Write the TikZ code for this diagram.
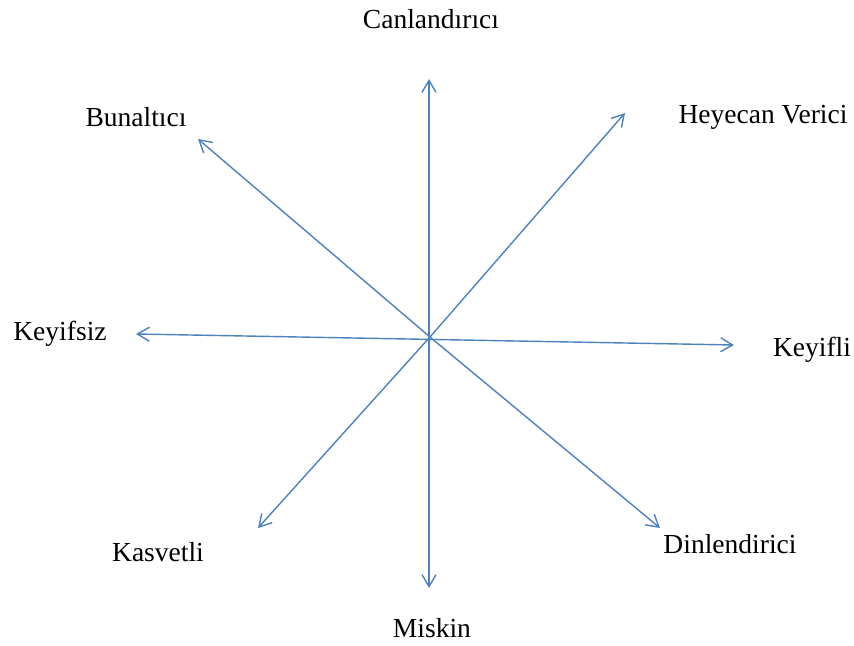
\documentclass[tikz,border=0pt]{standalone}
\usepackage{fontspec}
\setmainfont{Liberation Serif}
\usetikzlibrary{arrows.meta}

\begin{document}
\begin{tikzpicture}[
  x=0.03cm, y=-0.03cm,
  every node/.style={align=center, font=\fontsize{23.5}{28}\selectfont, inner sep=0pt},
  axis/.style={{Straight Barb[length=3.6mm, width=4.2mm]}-{Straight Barb[length=3.6mm, width=4.2mm]}, line width=1.2pt, draw={rgb,255:red,79;green,129;blue,189}},
  arrow/.style={-{Straight Barb[length=3.6mm, width=4.2mm]}, line width=1.2pt, draw={rgb,255:red,79;green,129;blue,189}}
]
\useasboundingbox (0,0) rectangle (854,646);

\coordinate (center) at (430,337);
\coordinate (up) at (429,79);
\coordinate (down) at (429,588);
\coordinate (left) at (136,334);
\coordinate (right) at (734,345);
\coordinate (upleft) at (198,139);
\coordinate (upright) at (625,113);
\coordinate (downleft) at (258,528);
\coordinate (downright) at (660,528);

\node (canlandirici) at (431,19) {Canland\i r\i c\i};
\node (bunaltici) at (136,117) {Bunalt\i c\i};
\node (heyecan) at (763,117) {Heyecan Verici};
\node (keyifsiz) at (60,334) {Keyifsiz};
\node (keyifli) at (812,350) {Keyifli};
\node (kasvetli) at (158,552) {Kasvetli};
\node (dinlendirici) at (730,544) {Dinlendirici};
\node (miskin) at (432,628) {Miskin};

\draw[axis] (down) -- (up);
\draw[axis] (left) -- (right);
\draw[arrow] (center) -- (upleft);
\draw[arrow] (center) -- (upright);
\draw[arrow] (center) -- (downleft);
\draw[arrow] (center) -- (downright);

\end{tikzpicture}
\end{document}
